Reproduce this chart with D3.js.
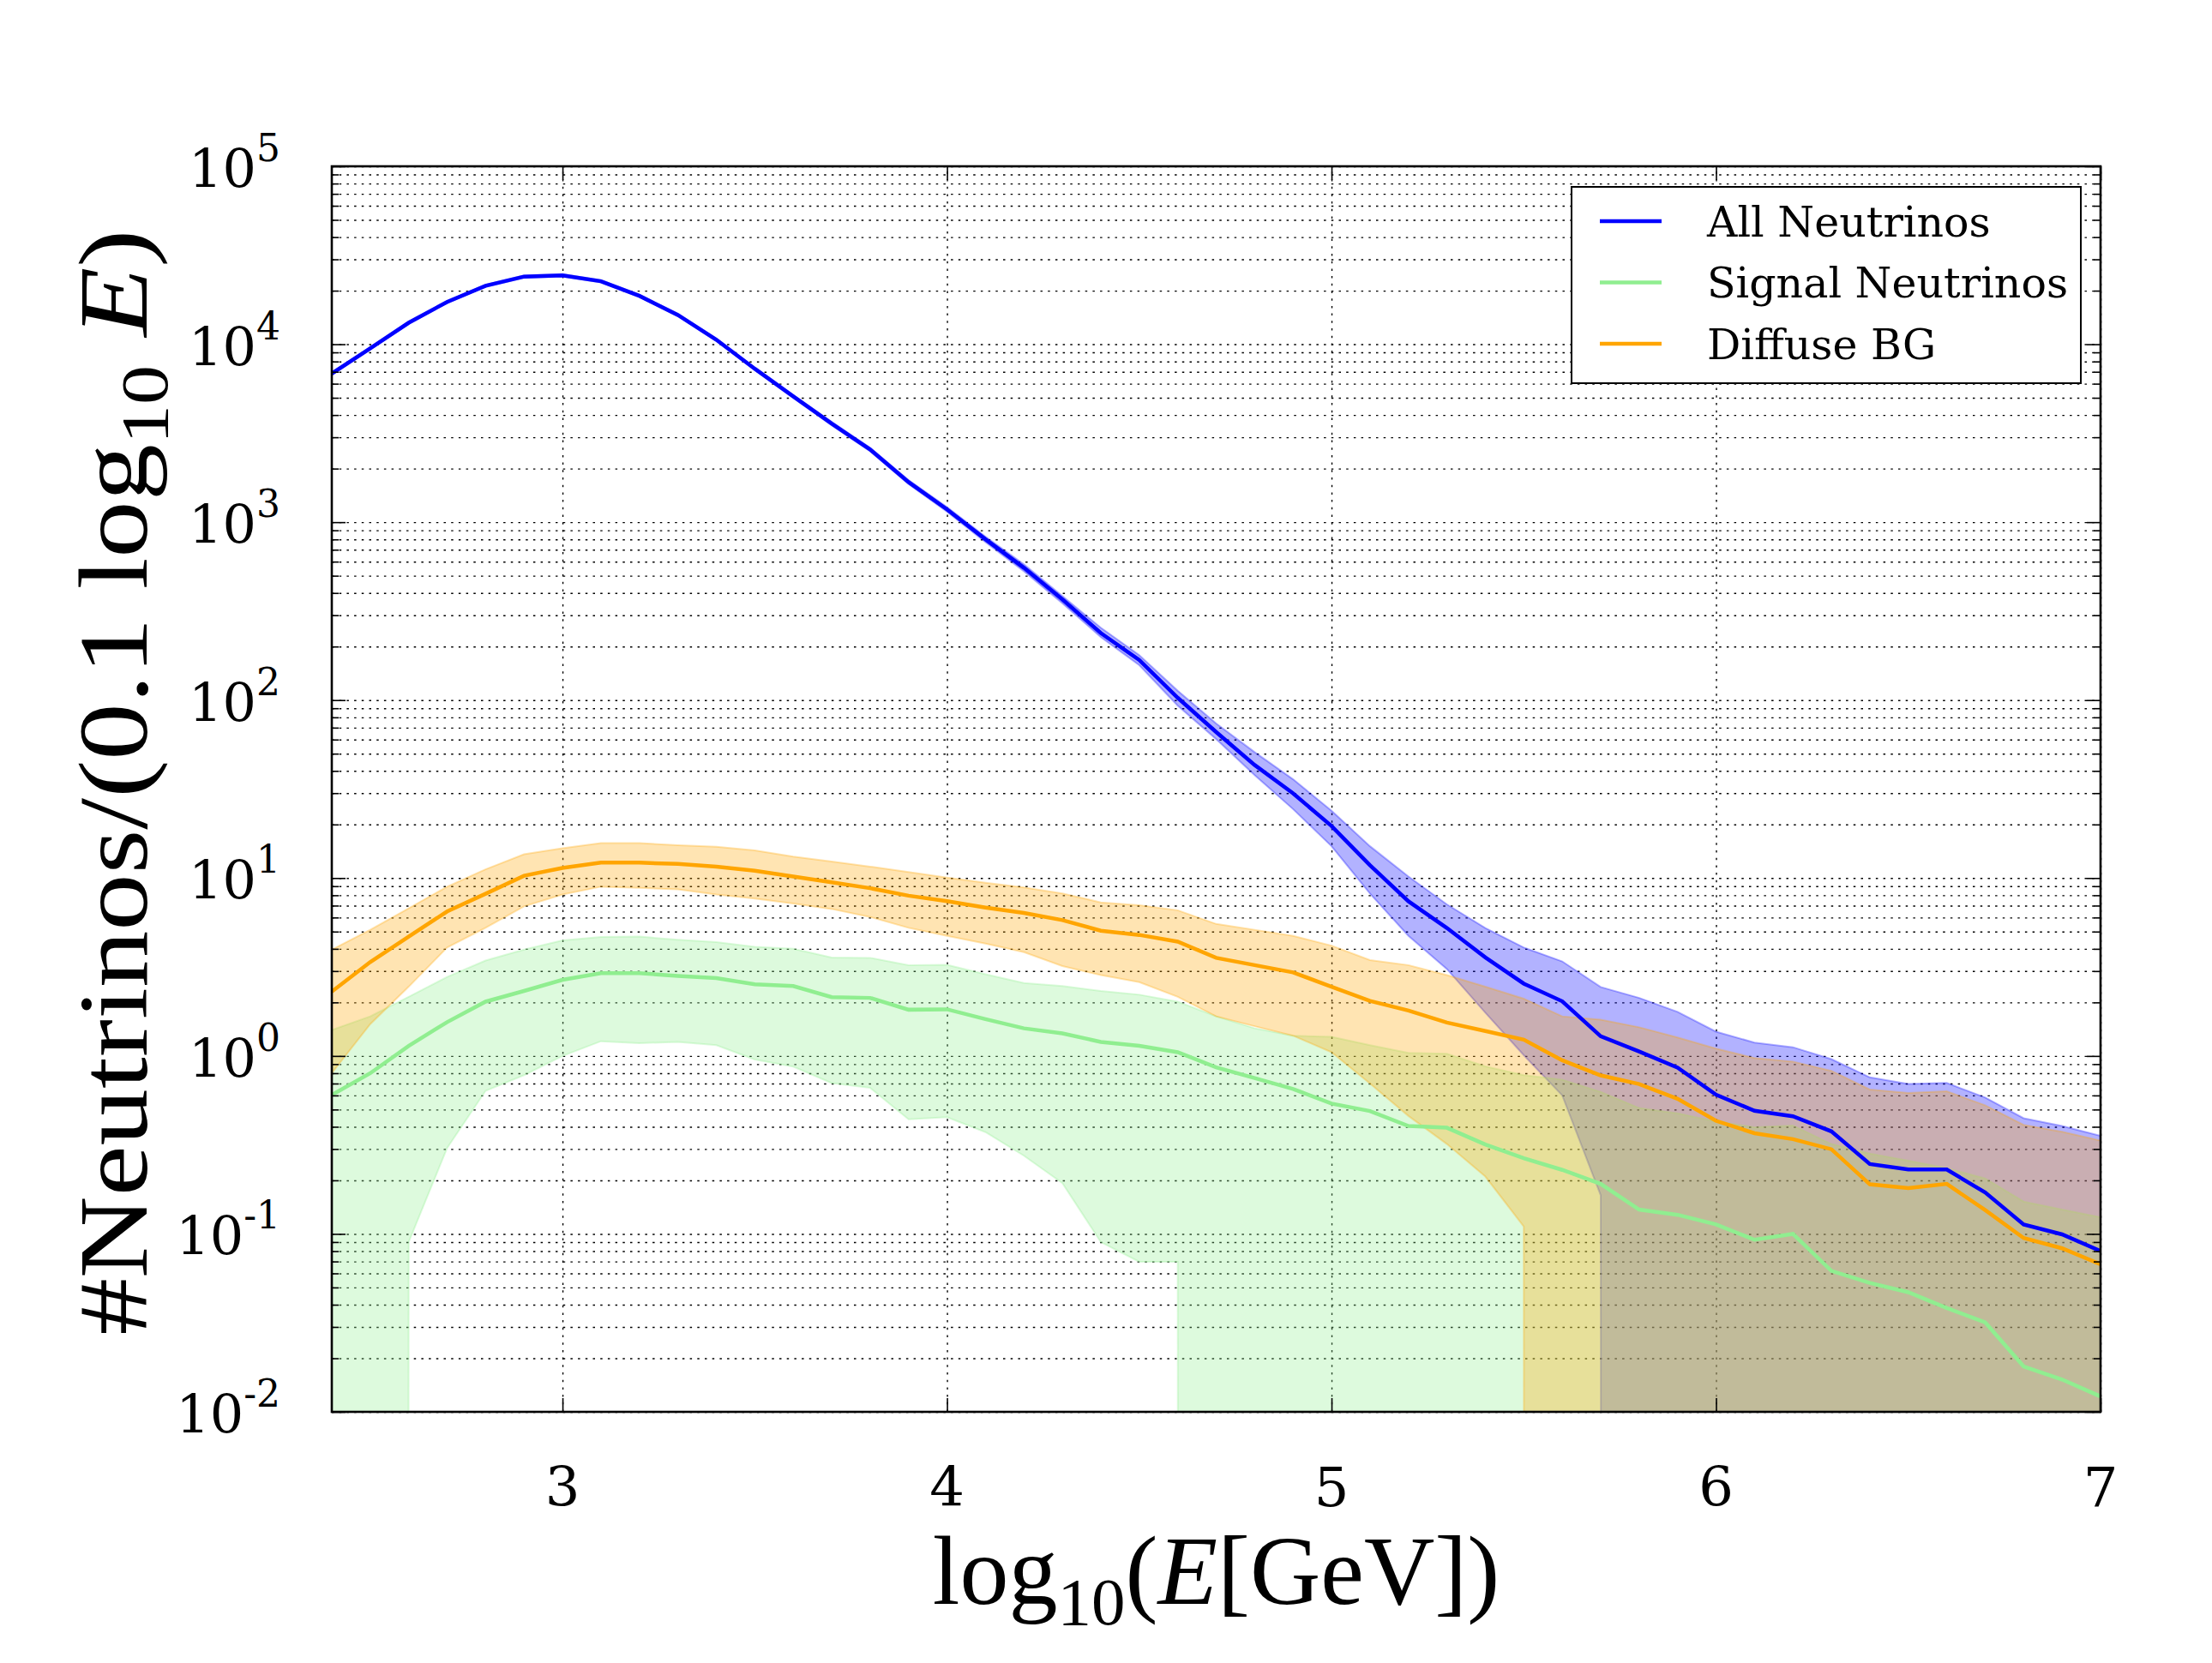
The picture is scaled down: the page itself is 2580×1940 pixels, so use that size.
<!DOCTYPE html>
<html>
<head>
<meta charset="utf-8">
<script src="https://cdn.jsdelivr.net/npm/d3@7/dist/d3.min.js"></script>
<style>
    body { margin: 0; background: #fff; }
    .grid line { stroke: #000; stroke-width: 1.4; stroke-dasharray: 2.5, 6.2; }
    .grid path, .ticks path { display: none; }
    .ticks line { stroke: #000; stroke-width: 1.6; }
    .ticklabel { font-family: "DejaVu Serif", serif; font-size: 62px; fill: #000; }
    .axlabel { font-family: "Liberation Serif", "DejaVu Serif", serif; font-size: 114px; fill: #000; }
    .legend text { font-family: "DejaVu Serif", serif; font-size: 49px; fill: #000; }
</style>
</head>
<body>
<div id="chart"></div>
<script>
// bin centres, log10(E/GeV)
const energy = [2.4, 2.5, 2.6, 2.7, 2.8, 2.9, 3.0, 3.1, 3.2, 3.3, 3.4, 3.5, 3.6, 3.7, 3.8, 3.9,
    4.0, 4.1, 4.2, 4.3, 4.4, 4.5, 4.6, 4.7, 4.8, 4.9, 5.0, 5.1, 5.2, 5.3, 5.4, 5.5, 5.6, 5.7,
    5.8, 5.9, 6.0, 6.1, 6.2, 6.3, 6.4, 6.5, 6.6, 6.7, 6.8, 6.9, 7.0];

// All neutrinos
const allNu = [6840, 9490, 13200, 17300, 21300, 24000, 24400, 22600, 18700, 14600, 10600, 7280,
    5090, 3580, 2560, 1680, 1180, 801, 554, 368, 238, 168, 103, 66.1, 43.2, 29.9, 19.6, 11.8,
    7.4, 5.24, 3.58, 2.55, 2.03, 1.29, 1.06, 0.86, 0.606, 0.492, 0.458, 0.377, 0.247, 0.230,
    0.230, 0.171, 0.113, 0.0994, 0.080];
const allNuUp = [6950, 9640, 13400, 17550, 21600, 24350, 24750, 22950, 19000, 14850, 10780, 7410,
    5190, 3660, 2620, 1725, 1215, 830, 580, 385, 255, 179, 113, 73.9, 51.0, 35.9, 23.9, 15.1,
    10.2, 7.11, 5.24, 4.07, 3.40, 2.44, 2.12, 1.77, 1.37, 1.19, 1.12, 0.96, 0.758, 0.697,
    0.705, 0.584, 0.447, 0.404, 0.356];
const allNuLo = [6730, 9340, 13000, 17050, 21000, 23650, 24050, 22250, 18400, 14350, 10420, 7150,
    4990, 3500, 2500, 1635, 1145, 772, 530, 350, 226, 157, 93.1, 60.3, 37.9, 24.4, 15.1, 8.18,
    4.73, 3.08, 1.75, 1.01, 0.60, 0.165, 0, 0, 0, 0, 0, 0, 0, 0, 0, 0, 0, 0, 0];

// Signal neutrinos
const signal = [0.604, 0.80, 1.14, 1.55, 2.02, 2.32, 2.68, 2.92, 2.92, 2.82, 2.74, 2.53, 2.47,
    2.14, 2.12, 1.82, 1.83, 1.61, 1.43, 1.34, 1.20, 1.14, 1.05, 0.863, 0.752, 0.653, 0.54, 0.49,
    0.404, 0.395, 0.318, 0.266, 0.229, 0.191, 0.137, 0.128, 0.113, 0.0927, 0.100, 0.062, 0.053,
    0.047, 0.0383, 0.0318, 0.018, 0.0152, 0.0122];
const signalUp = [1.40, 1.67, 2.15, 2.78, 3.44, 3.96, 4.46, 4.67, 4.69, 4.50, 4.36, 4.11, 4.01,
    3.58, 3.56, 3.24, 3.25, 2.88, 2.57, 2.47, 2.32, 2.21, 2.02, 1.67, 1.43, 1.30, 1.28, 1.15,
    1.04, 1.03, 0.874, 0.78, 0.736, 0.628, 0.51, 0.476, 0.428, 0.398, 0.407, 0.32, 0.283, 0.258,
    0.234, 0.205, 0.152, 0.137, 0.124];
const signalLo = [0, 0, 0.09, 0.304, 0.637, 0.780, 1.00, 1.21, 1.18, 1.20, 1.15, 0.955, 0.871,
    0.704, 0.662, 0.441, 0.453, 0.373, 0.275, 0.193, 0.090, 0.0697, 0.0697, 0, 0, 0, 0, 0, 0,
    0, 0, 0, 0, 0, 0, 0, 0, 0, 0, 0, 0, 0, 0, 0, 0, 0, 0];

// Diffuse background
const diffuse = [2.30, 3.37, 4.69, 6.49, 8.16, 10.3, 11.4, 12.2, 12.2, 12.0, 11.6, 11.0, 10.2,
    9.47, 8.77, 7.96, 7.41, 6.83, 6.36, 5.8, 5.06, 4.79, 4.39, 3.56, 3.24, 2.95, 2.45, 2.04,
    1.80, 1.54, 1.38, 1.235, 0.945, 0.778, 0.695, 0.574, 0.432, 0.368, 0.341, 0.299, 0.190,
    0.181, 0.191, 0.136, 0.0948, 0.083, 0.0675];
const diffuseUp = [3.96, 5.12, 6.76, 8.94, 11.2, 13.6, 14.7, 15.7, 15.7, 15.3, 15.0, 14.3, 13.2,
    12.4, 11.6, 10.8, 10.05, 9.42, 8.85, 8.2, 7.30, 7.04, 6.59, 5.52, 5.12, 4.73, 4.17, 3.46,
    3.24, 2.85, 2.45, 2.10, 1.67, 1.60, 1.45, 1.27, 1.10, 0.975, 0.93, 0.825, 0.648, 0.62,
    0.633, 0.528, 0.41, 0.375, 0.335];
const diffuseLo = [0.80, 1.51, 2.45, 4.07, 5.25, 6.93, 8.08, 8.94, 8.81, 8.63, 8.08, 7.67, 7.19,
    6.70, 6.04, 5.25, 4.73, 4.28, 3.83, 3.2, 2.85, 2.60, 2.15, 1.67, 1.47, 1.30, 1.05, 0.70,
    0.46, 0.32, 0.21, 0.11, 0, 0, 0, 0, 0, 0, 0, 0, 0, 0, 0, 0, 0, 0, 0];

const xTicks = [3, 4, 5, 6, 7];
const legendNames = ["All Neutrinos", "Signal Neutrinos", "Diffuse BG"];

var margin = { top: 194, right: 130, bottom: 293, left: 387 };
var width = 2580 - margin.left - margin.right;
var height = 1940 - margin.top - margin.bottom;

var series = [
    { name: legendNames[0], color: "#0000ff", line: allNu, up: allNuUp, lo: allNuLo },
    { name: legendNames[1], color: "#90ee90", line: signal, up: signalUp, lo: signalLo },
    { name: legendNames[2], color: "#ffa500", line: diffuse, up: diffuseUp, lo: diffuseLo }
];

var svg = d3.select("#chart")
    .append("svg")
    .attr("width", 2580)
    .attr("height", 1940)
    .style("background", "#fff");

var g = svg.append("g")
    .attr("transform", "translate(" + margin.left + "," + margin.top + ")");

var xScale = d3.scaleLinear()
    .domain([2.4, 7])
    .range([0, width]);

var yScale = d3.scaleLog()
    .domain([1e-2, 1e5])
    .range([height, 0]);

// empty bins go far below the axis, like matplotlib's log clipping
function yPos(v) { return v > 0 ? yScale(v) : yScale(1e-300); }

var allY = yScale.ticks();
var majorY = allY.filter(function (d) { return Math.abs(Math.log10(d) - Math.round(Math.log10(d))) < 1e-9; });
var minorY = allY.filter(function (d) { return majorY.indexOf(d) < 0; });

g.append("defs").append("clipPath")
    .attr("id", "plotclip")
    .append("rect")
    .attr("width", width)
    .attr("height", height);

// grid (dotted)
g.append("g")
    .attr("class", "grid")
    .call(d3.axisLeft(yScale).tickValues(allY).tickSize(-width).tickFormat(""));
g.append("g")
    .attr("class", "grid")
    .attr("transform", "translate(0," + height + ")")
    .call(d3.axisBottom(xScale).tickValues(xTicks).tickSize(-height).tickFormat(""));

// bands first, lines on top
var plot = g.append("g").attr("clip-path", "url(#plotclip)");

series.forEach(function (s) {
    var area = d3.area()
        .x(function (d, i) { return xScale(energy[i]); })
        .y0(function (d, i) { return yPos(s.lo[i]); })
        .y1(function (d, i) { return yPos(s.up[i]); });
    plot.append("path")
        .datum(s.line)
        .attr("d", area)
        .attr("fill", s.color)
        .attr("fill-opacity", 0.3)
        .attr("stroke", s.color)
        .attr("stroke-opacity", 0.3)
        .attr("stroke-width", 2);
});

series.forEach(function (s) {
    plot.append("path")
        .datum(s.line)
        .attr("fill", "none")
        .attr("stroke", s.color)
        .attr("stroke-width", 4.5)
        .attr("stroke-linejoin", "miter")
        .attr("d", d3.line()
            .x(function (d, i) { return xScale(energy[i]); })
            .y(function (d) { return yScale(d); })
        );
});

// inward ticks on all four sides
g.append("g").attr("class", "ticks")
    .call(d3.axisLeft(yScale).tickValues(majorY).tickSize(-16).tickFormat(""));
g.append("g").attr("class", "ticks")
    .call(d3.axisLeft(yScale).tickValues(minorY).tickSize(-8).tickFormat(""));
g.append("g").attr("class", "ticks")
    .attr("transform", "translate(" + width + ",0)")
    .call(d3.axisRight(yScale).tickValues(majorY).tickSize(-16).tickFormat(""));
g.append("g").attr("class", "ticks")
    .attr("transform", "translate(" + width + ",0)")
    .call(d3.axisRight(yScale).tickValues(minorY).tickSize(-8).tickFormat(""));
g.append("g").attr("class", "ticks")
    .attr("transform", "translate(0," + height + ")")
    .call(d3.axisBottom(xScale).tickValues(xTicks).tickSize(-16).tickFormat(""));
g.append("g").attr("class", "ticks")
    .call(d3.axisTop(xScale).tickValues(xTicks).tickSize(-16).tickFormat(""));

// frame
g.append("rect")
    .attr("width", width)
    .attr("height", height)
    .attr("fill", "none")
    .attr("stroke", "#000")
    .attr("stroke-width", 2.6);

// y tick labels 10^n
majorY.forEach(function (d) {
    var e = Math.round(Math.log10(d));
    var t = g.append("text")
        .attr("class", "ticklabel")
        .attr("x", -60)
        .attr("y", yScale(d) + 24)
        .attr("text-anchor", "end");
    t.append("tspan").text("10");
    t.append("tspan")
        .attr("dy", -30)
        .style("font-size", "44px")
        .text(e < 0 ? "-" + (-e) : String(e));
});

// x tick labels
xTicks.forEach(function (d) {
    g.append("text")
        .attr("class", "ticklabel")
        .style("font-size", "64px")
        .attr("x", xScale(d))
        .attr("y", height + 110)
        .attr("text-anchor", "middle")
        .text(d);
});

// axis labels
var xl = g.append("text")
    .attr("class", "axlabel")
    .attr("x", width / 2)
    .attr("y", height + 224)
    .attr("text-anchor", "middle");
xl.append("tspan").text("log");
xl.append("tspan").attr("dy", 24).style("font-size", "79px").text("10");
xl.append("tspan").attr("dy", -24).text("(");
xl.append("tspan").style("font-style", "italic").text("E");
xl.append("tspan").text("[GeV])");

var yl = g.append("text")
    .attr("class", "axlabel")
    .attr("transform", "translate(-216," + (height / 2 - 8) + ") rotate(-90)")
    .attr("text-anchor", "middle")
    .attr("textLength", 1290)
    .attr("lengthAdjust", "spacingAndGlyphs");
yl.append("tspan").text("#Neutrinos/(0.1 log");
yl.append("tspan").attr("dy", 24).style("font-size", "79px").text("10");
yl.append("tspan").attr("dy", -24).text("\u00a0");
yl.append("tspan").style("font-style", "italic").text("E");
yl.append("tspan").text(")");

// legend
var lg = g.append("g")
    .attr("class", "legend")
    .attr("transform", "translate(1446,24)");
lg.append("rect")
    .attr("width", 594)
    .attr("height", 229)
    .attr("fill", "#fff")
    .attr("stroke", "#000")
    .attr("stroke-width", 2);
series.forEach(function (s, i) {
    var yy = 40 + i * 71.5;
    lg.append("line")
        .attr("x1", 33).attr("x2", 105)
        .attr("y1", yy).attr("y2", yy)
        .attr("stroke", s.color)
        .attr("stroke-width", 4.5);
    lg.append("text")
        .attr("x", 158)
        .attr("y", yy)
        .attr("dy", "0.36em")
        .text(s.name);
});
</script>
</body>
</html>
